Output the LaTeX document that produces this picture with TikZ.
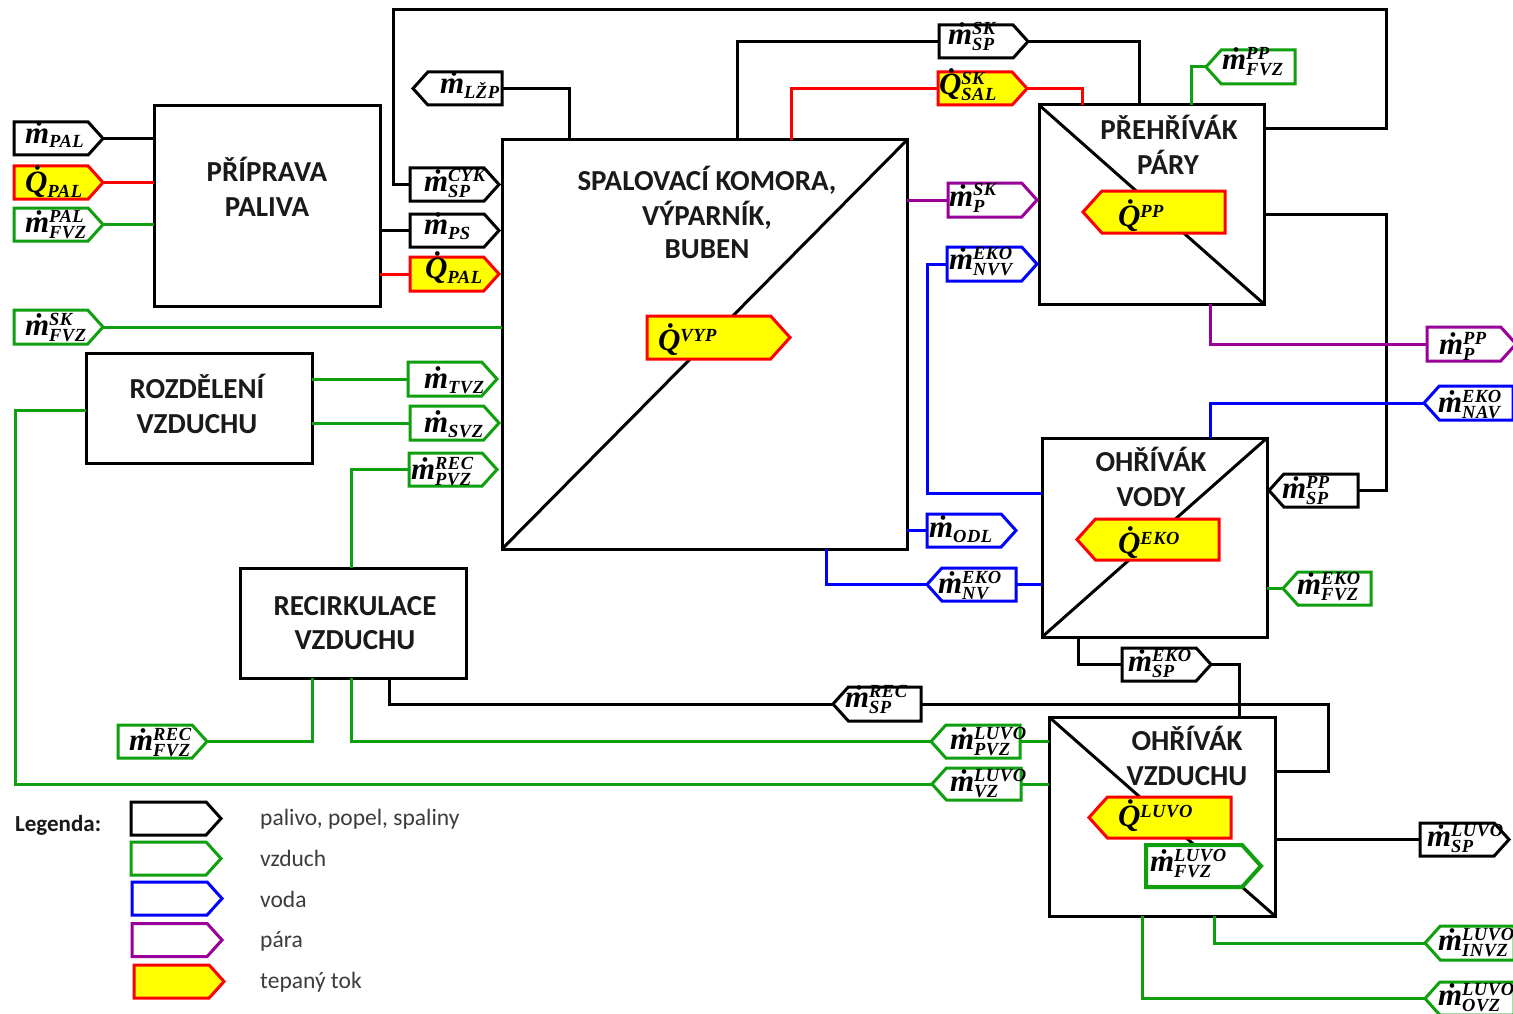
\documentclass[tikz,border=0pt]{standalone}
\usepackage{fontspec}
\setmainfont{Carlito}
\newfontfamily\mfontbase[LetterSpace=3]{Liberation Serif}
\usetikzlibrary{shapes.symbols}
\definecolor{cgreen}{HTML}{0F9F0F}
\definecolor{cblue}{HTML}{0000FF}
\definecolor{cpurple}{HTML}{990099}
\definecolor{cred}{HTML}{FF0000}
\definecolor{cyel}{HTML}{FFFF00}
\definecolor{ctxt}{HTML}{1A1A1A}
\newcommand\bigf{\mfontbase\bfseries\itshape\fontsize{31}{31}\selectfont}
\newcommand\smallf{\mfontbase\bfseries\itshape\fontsize{18.5}{18.5}\selectfont}
\newcommand\FL[3]{{\bigf\.{#1}}\rlap{\raisebox{10pt}{\smallf #2}}\raisebox{-6pt}{\smallf #3}}
\newcommand\FS[2]{{\bigf\.{#1}}\raisebox{-5pt}{\smallf #2}}
\newcommand\FU[2]{{\bigf\.{#1}}\raisebox{9pt}{\smallf #2}}
% \TagR[style]{name}{x1}{x2}{y1}{y2}{dx}{dy}{text}: pointing right
\newcommand\TagR[9][]{%
  \pgfmathsetmacro\tw{#4-#3}\pgfmathsetmacro\th{#6-#5}\pgfmathsetmacro\ty{(#5+#6)/2}%
  \node[tagbox,signal to=east,anchor=west,minimum width=\tw pt,minimum height=\th pt,#1] (#2) at (#3,\ty) {};
  \node[flowtext,anchor=base west] (#2t) at (#3+#7,\ty+#8) {#9};
}
\newcommand\TagL[9][]{%
  \pgfmathsetmacro\tw{#4-#3}\pgfmathsetmacro\th{#6-#5}\pgfmathsetmacro\ty{(#5+#6)/2}%
  \node[tagbox,signal to=west,anchor=east,minimum width=\tw pt,minimum height=\th pt,#1] (#2) at (#4,\ty) {};
  \node[flowtext,anchor=base west] (#2t) at (#3+#7,\ty+#8) {#9};
}
\newcommand\Blk[5]{%
  \pgfmathsetmacro\tw{#4-#2}\pgfmathsetmacro\th{#5-#3}\pgfmathsetmacro\tx{(#2+#4)/2}\pgfmathsetmacro\ty{(#3+#5)/2}%
  \node[block,minimum width=\tw pt,minimum height=\th pt] (#1) at (\tx,\ty) {};
}
\tikzset{
  block/.style={draw=black,line width=3pt,fill=white,inner sep=0pt,outer sep=0pt},
  tagbox/.style={shape=signal,signal from=nowhere,signal pointer angle=96,draw=black,line width=3pt,fill=white,inner sep=0pt,outer sep=0pt},
  bk/.style={draw=black},
  gr/.style={draw=cgreen},
  bl/.style={draw=cblue},
  pu/.style={draw=cpurple},
  rd/.style={draw=cred,fill=cyel},
  flowtext/.style={inner sep=0pt,outer sep=0pt,text=black},
  blocktext/.style={inner sep=0pt,anchor=base,font=\fontsize{29}{29}\selectfont\bfseries,text=ctxt},
  legtext/.style={inner sep=0pt,anchor=base west,font=\fontsize{23.5}{23.5}\selectfont,text=ctxt!85!white},
  blk/.style={line width=3pt,draw=black},
  grn/.style={line width=3pt,draw=cgreen},
  blu/.style={line width=3pt,draw=cblue},
  pur/.style={line width=3pt,draw=cpurple},
  redl/.style={line width=3pt,draw=cred},
}
\begin{document}
\begin{tikzpicture}[x=1pt,y=-1pt]
\clip (0,0) rectangle (1513,1014);
\fill[white] (0,0) rectangle (1513,1014);
% blocks
\Blk{pp}{154}{106}{380}{306}
\Blk{sk}{502}{140}{907}{549}
\Blk{pr}{1039}{105}{1264}{304}
\Blk{ov}{1042}{438}{1267}{637}
\Blk{lv}{1049}{717}{1275}{916}
\Blk{ro}{86}{353}{312}{463}
\Blk{re}{240}{568}{466}{678}
\draw[blk] (sk.south west) -- (sk.north east);
\draw[blk] (pr.north west) -- (pr.south east);
\draw[blk] (ov.south west) -- (ov.north east);
\draw[blk] (lv.north west) -- (lv.south east);
% block text
\node[blocktext] (t1) at (267,182) {PŘÍPRAVA};
\node[blocktext] (t2) at (267,216) {PALIVA};
\node[blocktext] (t3) at (707,190) {SPALOVACÍ KOMORA,};
\node[blocktext] (t4) at (707,225) {VÝPARNÍK,};
\node[blocktext] (t5) at (707,258) {BUBEN};
\node[blocktext] (t6) at (1169,140) {PŘEHŘÍVÁK};
\node[blocktext] (t7) at (1168,175) {PÁRY};
\node[blocktext] (t8) at (1151,471) {OHŘÍVÁK};
\node[blocktext] (t9) at (1151,506) {VODY};
\node[blocktext] (t10) at (1187,750) {OHŘÍVÁK};
\node[blocktext] (t11) at (1187,785) {VZDUCHU};
\node[blocktext] (t12) at (197,398) {ROZDĚLENÍ};
\node[blocktext] (t13) at (197,433) {VZDUCHU};
\node[blocktext] (t14) at (355,615) {RECIRKULACE};
\node[blocktext] (t15) at (355,649) {VZDUCHU};
% tags
\TagR[bk]{a1}{14}{103}{122}{155}{11}{4.5}{\FS{m}{PAL}}
\TagR[rd]{a2}{14}{103}{166}{199}{11}{10}{\FS{Q}{PAL}}
\TagR[gr]{a3}{14}{103}{208}{241}{11}{8}{\FL{m}{PAL}{FVZ}}
\TagR[gr]{a4}{14}{103}{310}{344}{11}{8}{\FL{m}{SK}{FVZ}}
\TagR[bk]{b1}{410}{499}{168}{201}{14}{7}{\FL{m}{CYK}{SP}}
\TagR[bk]{b2}{410}{499}{214}{247}{14}{3.5}{\FS{m}{PS}}
\TagR[rd]{b3}{410}{499}{257}{291}{15}{4}{\FS{Q}{PAL}}
\TagR[gr]{b4}{408}{497}{362}{396}{16}{9}{\FS{m}{TVZ}}
\TagR[gr]{b5}{410}{499}{406}{440}{14}{9}{\FS{m}{SVZ}}
\TagR[gr]{b6}{409}{497}{453}{486}{2}{10}{\FL{m}{REC}{PVZ}}
\TagL[bk]{c1}{413}{502}{72}{105}{27}{5}{\FS{m}{LŽP}}
\TagR[bk]{c2}{939}{1028}{25}{58}{9}{3.5}{\FL{m}{SK}{SP}}
\TagR[rd]{c3}{938}{1027}{72}{105}{1}{6.5}{\FL{Q}{SK}{SAL}}
\TagL[gr]{c4}{1206}{1295}{50}{84}{16}{3}{\FL{m}{PP}{FVZ}}
\TagR[pu]{c5}{948}{1037}{183}{217}{1}{6}{\FL{m}{SK}{P}}
\TagR[bl]{c6}{947}{1037}{247}{281}{2}{5}{\FL{m}{EKO}{NVV}}
\TagR[pu]{d1}{1427}{1516}{327}{361}{12}{10}{\FL{m}{PP}{P}}
\TagL[bl]{d2}{1424}{1513}{386}{420}{14}{9}{\FL{m}{EKO}{NAV}}
\TagL[bk]{d3}{1269}{1358}{474}{507}{13}{8}{\FL{m}{PP}{SP}}
\TagR[bl]{d4}{927}{1016}{514}{547}{2}{7}{\FS{m}{ODL}}
\TagL[bl]{d5}{927}{1016}{568}{601}{11}{9}{\FL{m}{EKO}{NV}}
\TagL[gr]{d6}{1283}{1371}{572}{605}{14}{5.5}{\FL{m}{EKO}{FVZ}}
\TagR[bk]{d7}{1122}{1211}{648}{681}{6}{7}{\FL{m}{EKO}{SP}}
\TagL[bk]{e1}{833}{921}{687}{721}{12}{3}{\FL{m}{REC}{SP}}
\TagL[gr]{e2}{931}{1020}{725}{758}{19}{8}{\FL{m}{LUVO}{PVZ}}
\TagL[gr]{e3}{932}{1021}{768}{800}{18}{7}{\FL{m}{LUVO}{VZ}}
\TagR[gr]{e4}{118}{207}{725}{758}{11}{9}{\FL{m}{REC}{FVZ}}
\TagR[bk]{e5}{1420}{1509}{823}{856}{7}{6.5}{\FL{m}{LUVO}{SP}}
\TagL[gr]{e6}{1425}{1514}{926}{960}{13}{7.5}{\FL{m}{LUVO}{INVZ}}
\TagL[gr]{e7}{1425}{1514}{982}{1015}{13}{6.5}{\FL{m}{LUVO}{OVZ}}
% inner heat tags
\node[tagbox,rd,signal to=east,anchor=west,minimum width=143pt,minimum height=43pt] (qv) at (647,337.5) {};
\node[flowtext,anchor=base west] (qvt) at (658,350) {\FU{Q}{VYP}};
\node[tagbox,rd,signal to=west,anchor=east,minimum width=142pt,minimum height=42pt] (qp) at (1225,212) {};
\node[flowtext,anchor=base west] (qpt) at (1118,226) {\FU{Q}{PP}};
\node[tagbox,rd,signal to=west,anchor=east,minimum width=142pt,minimum height=41pt] (qe) at (1219,539.5) {};
\node[flowtext,anchor=base west] (qet) at (1118,553) {\FU{Q}{EKO}};
\node[tagbox,rd,signal to=west,anchor=east,minimum width=142pt,minimum height=41pt] (ql) at (1231,817.5) {};
\node[flowtext,anchor=base west] (qlt) at (1118,826) {\FU{Q}{LUVO}};
\node[tagbox,gr,line width=4pt,signal to=east,anchor=west,minimum width=115pt,minimum height=42pt] (fl) at (1146,866) {};
\node[flowtext,anchor=base west] (flt) at (1150,871.5) {\FL{m}{LUVO}{FVZ}};
% connectors, left column
\draw[blk] (a1.east) -- (a1.east -| pp.west);
\draw[redl] (a2.east) -- (a2.east -| pp.west);
\draw[grn] (a3.east) -- (a3.east -| pp.west);
\draw[grn] (a4.east) -- (a4.east -| sk.west);
\draw[blk] (pp.east |- b2.west) -- (b2.west);
\draw[redl] (pp.east |- b3.west) -- (b3.west);
\draw[grn] (ro.east |- b4.west) -- (b4.west);
\draw[grn] (ro.east |- b5.west) -- (b5.west);
% top loop
\coordinate (loopa) at (393,10);
\coordinate (loopb) at (1386,10);
\draw[blk,line join=miter] (b1.west) -| (loopa) -- (loopb) |- ([yshift=-24pt]pr.north east);
\draw[blk] ([xshift=67pt]c1.east |- sk.north) -- ([xshift=67pt]c1.east) -- (c1.east);
\draw[blk] ([xshift=235pt]sk.north west) |- (c2.west);
\draw[blk] (c2.east) -| ([xshift=100pt]pr.north west);
\draw[redl] ([xshift=289pt]sk.north west) |- (c3.west);
\draw[redl] (c3.east) -| ([xshift=43pt]pr.north west);
\draw[grn] ([xshift=152pt]pr.north west) |- (c4.west);
% right side of steam
\coordinate (rightb) at (1386,214);
\draw[blk] (d3.east) -| (rightb) -- (rightb -| pr.east);
\draw[pur] ([xshift=171pt]pr.south west) |- (d1.west);
\draw[blu] (d2.west) -| ([xshift=168pt]ov.north west);
\draw[pur] (sk.east |- c5.west) -- (c5.west);
\coordinate (nvvx) at (927,493);
\draw[blu] (c6.west) -| (nvvx) -- (nvvx -| ov.west);
\draw[blu] (sk.east |- d4.west) -- (d4.west);
\draw[blu] ([xshift=324pt]sk.south west) |- (d5.west);
\draw[blu] (d5.east) -- (d5.east -| ov.west);
\draw[grn] (ov.east |- d6.west) -- (d6.west);
\draw[blk] ([xshift=36pt]ov.south west) |- (d7.west);
\draw[blk] (d7.east) -| ([xshift=190pt]lv.north west);
% rozdeleni / recirkulace
\coordinate (rozdl) at (15,410);
\draw[grn] (rozdl -| ro.west) -- (rozdl) |- (e3.west);
\draw[grn] (e3.east) -- (e3.east -| lv.west);
\draw[grn] ([xshift=111pt]re.north west) |- (b6.west);
\draw[grn] ([xshift=72pt]re.south west) |- (e4.east);
\draw[grn] ([xshift=111pt]re.south west) |- (e2.west);
\draw[grn] (e2.east) -- (e2.east -| lv.west);
\draw[blk] ([xshift=149pt]re.south west) |- (e1.west);
\coordinate (recr) at (1328,704);
\draw[blk] (e1.east) -- (recr) |- ([yshift=-54pt]lv.north east);
\draw[blk] (lv.east |- e5.west) -- (e5.west);
\draw[grn] ([xshift=165pt]lv.south west) |- (e6.west);
\draw[grn] ([xshift=93pt]lv.south west) |- (e7.west);
% legend
\node[inner sep=0pt,anchor=base west,font=\fontsize{23}{23}\selectfont\bfseries,text=ctxt] (leg) at (15,831) {Legenda:};
\node[tagbox,bk,signal to=east,anchor=west,minimum width=90pt,minimum height=33pt] (l1) at (131,818.5) {};
\node[tagbox,gr,signal to=east,anchor=west,minimum width=90pt,minimum height=33pt] (l2) at (131,858.5) {};
\node[tagbox,bl,signal to=east,anchor=west,minimum width=90pt,minimum height=33pt] (l3) at (132,898.5) {};
\node[tagbox,pu,signal to=east,anchor=west,minimum width=90pt,minimum height=33pt] (l4) at (132,940) {};
\node[tagbox,rd,signal to=east,anchor=west,minimum width=90pt,minimum height=33pt] (l5) at (134,981.5) {};
\node[legtext] (lt1) at (260,825) {palivo, popel, spaliny};
\node[legtext] (lt2) at (260,866) {vzduch};
\node[legtext] (lt3) at (260,907) {voda};
\node[legtext] (lt4) at (260,947) {pára};
\node[legtext] (lt5) at (260,988) {tepaný tok};
\end{tikzpicture}
\end{document}
